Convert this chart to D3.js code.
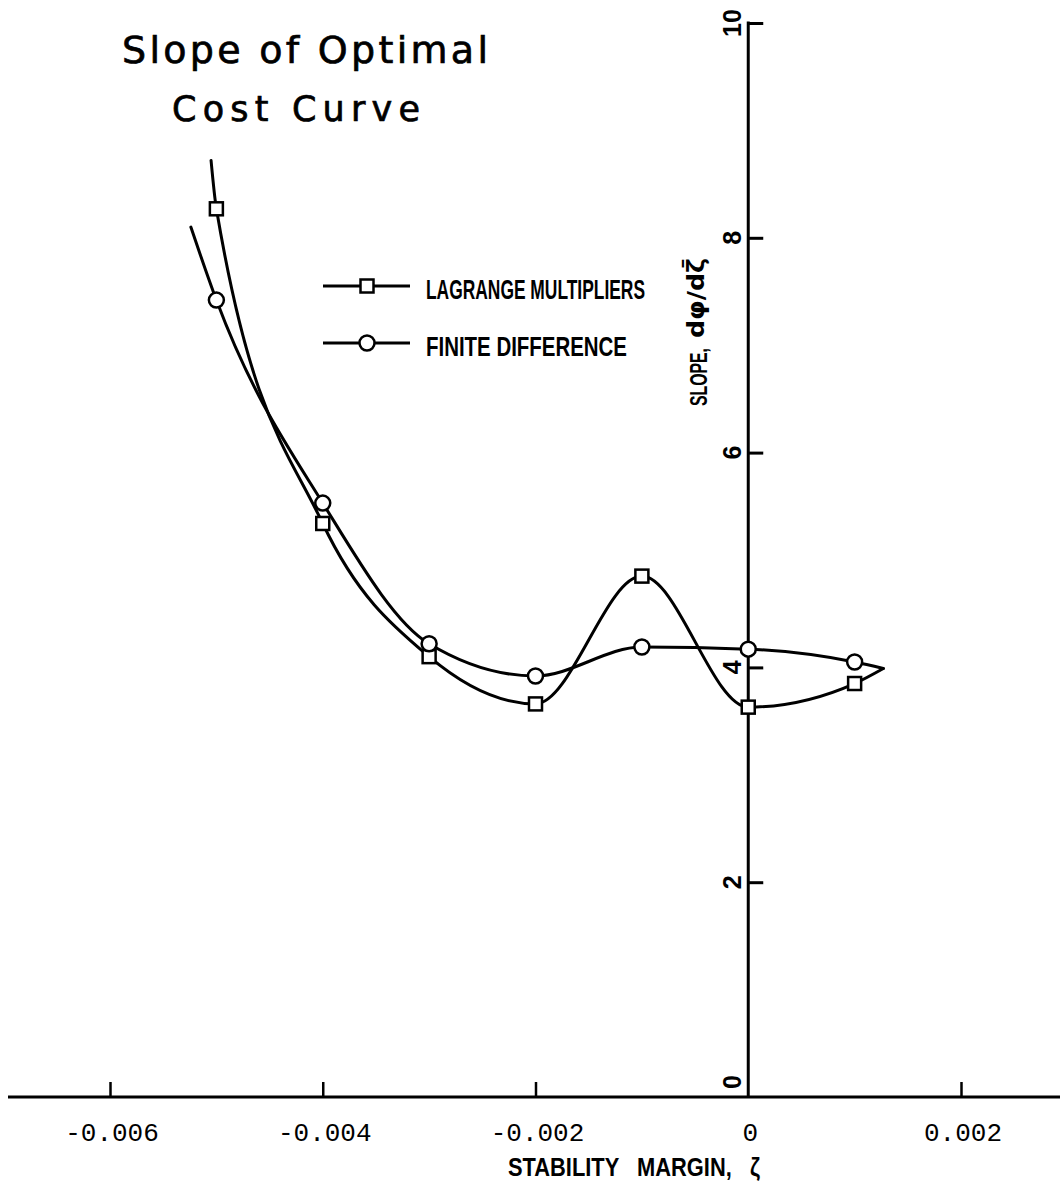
<!DOCTYPE html>
<html>
<head>
<meta charset="utf-8">
<script src="https://cdn.jsdelivr.net/npm/d3@7"></script>
<style>
  html, body { margin: 0; padding: 0; background: #fff; }
  svg { display: block; }
</style>
</head>
<body>
<svg id="chart" width="1060" height="1182"></svg>
<script>
// ---- data ----
const xTicks = [-0.006, -0.004, -0.002, 0, 0.002];
const xTickLabels = ["-0.006", "-0.004", "-0.002", "0", "0.002"];
const yTicks = [0, 2, 4, 6, 8, 10];
const yTickLabels = ["0", "2", "4", "6", "8", "10"];

// Lagrange multipliers (squares); first & last entries are curve ends without markers
const lagrangeX = [-0.00505, -0.005, -0.004, -0.003, -0.002, -0.001, 0, 0.001, 0.00127];
const lagrangeY = [8.72, 8.27, 5.34, 4.10, 3.66, 4.85, 3.63, 3.85, 3.99];
const lagrangeMarked = [false, true, true, true, true, true, true, true, false];

// Finite difference (circles)
const fdX = [-0.00524, -0.005, -0.004, -0.003, -0.002, -0.001, 0, 0.001, 0.00127];
const fdY = [8.10, 7.42, 5.53, 4.22, 3.92, 4.19, 4.17, 4.05, 3.99];
const fdMarked = [false, true, true, true, true, true, true, true, false];

const legendLabels = ["LAGRANGE MULTIPLIERS", "FINITE DIFFERENCE"];
const titleLines = ["Slope of Optimal", "Cost Curve"];

// ---- drawing ----
const svg = d3.select("#chart");
const x = d3.scaleLinear().domain([-0.006, 0.002]).range([110, 961]);
const y = d3.scaleLinear().domain([0, 10]).range([1097, 23]);
const ink = "#000";

// x axis
const xAxis = d3.axisBottom(x).tickValues(xTicks.filter(v => v !== 0))
  .tickSize(-15).tickFormat("");
const gx = svg.append("g").attr("transform", `translate(0,${y(0)})`).call(xAxis);
gx.select(".domain").remove();
gx.selectAll(".tick line").attr("stroke", ink).attr("stroke-width", 2.5);
svg.append("line").attr("x1", 8).attr("x2", 1060)
  .attr("y1", y(0)).attr("y2", y(0)).attr("stroke", ink).attr("stroke-width", 3);

svg.append("g").selectAll("text").data(xTicks).join("text")
  .attr("x", d => x(d) + 2).attr("y", y(0) + 44)
  .attr("text-anchor", "middle")
  .attr("font-family", "Liberation Mono, DejaVu Sans Mono, monospace")
  .attr("font-size", 26).attr("fill", ink)
  .text((d, i) => xTickLabels[i]);

// y axis
const yAxis = d3.axisRight(y).tickValues(yTicks.filter(v => v !== 0))
  .tickSize(15).tickFormat("");
const gy = svg.append("g").attr("transform", `translate(${x(0)},0)`).call(yAxis);
gy.select(".domain").remove();
gy.selectAll(".tick line").attr("stroke", ink).attr("stroke-width", 3);
svg.append("line").attr("x1", x(0)).attr("x2", x(0))
  .attr("y1", y(10) - 1.5).attr("y2", y(0)).attr("stroke", ink).attr("stroke-width", 3);

svg.append("g").selectAll("text").data(yTicks).join("text")
  .attr("transform", (d) => `translate(741,${y(d) - (d === 0 ? 15 : 0)}) rotate(-90)`)
  .attr("text-anchor", "middle")
  .attr("font-family", "Liberation Sans, Arial, sans-serif")
  .attr("font-weight", "bold")
  .attr("font-size", 25).attr("fill", ink)
  .text((d, i) => yTickLabels[i]);

// axis titles
const narrow = "Liberation Sans Narrow, Liberation Sans, Arial Narrow, sans-serif";
svg.append("text")
  .attr("transform", "translate(707,406) rotate(-90)")
  .attr("font-family", narrow).attr("font-weight", "bold")
  .attr("font-size", 23).attr("fill", ink)
  .attr("textLength", 58).attr("lengthAdjust", "spacingAndGlyphs")
  .text("SLOPE,");
svg.append("text")
  .attr("transform", "translate(704,338) rotate(-90)")
  .attr("font-family", "DejaVu Sans, sans-serif").attr("font-weight", "bold")
  .attr("font-size", 23).attr("fill", ink)
  .attr("textLength", 80).attr("lengthAdjust", "spacingAndGlyphs")
  .text("d\u03C6/d\u03B6\u0304");

svg.append("text").attr("x", 508).attr("y", 1176)
  .attr("font-family", narrow).attr("font-weight", "bold")
  .attr("font-size", 25).attr("fill", ink)
  .attr("textLength", 252).attr("lengthAdjust", "spacingAndGlyphs")
  .attr("xml:space", "preserve")
  .text("STABILITY   MARGIN,   \u03B6");

// title
svg.append("g").selectAll("text").data(titleLines).join("text")
  .attr("x", (d, i) => i === 0 ? 122 : 172)
  .attr("y", (d, i) => i === 0 ? 63 : 121)
  .attr("font-family", "DejaVu Sans, Liberation Sans, sans-serif")
  .attr("font-size", (d, i) => i === 0 ? 38 : 35).attr("fill", ink)
  .attr("stroke", ink).attr("stroke-width", 0.7)
  .attr("textLength", (d, i) => i === 0 ? 366 : 248)
  .attr("lengthAdjust", "spacing")
  .text(d => d);

// curves
const line = d3.line().x(d => x(d[0])).y(d => y(d[1])).curve(d3.curveMonotoneX);
const lagPts = lagrangeX.map((v, i) => [v, lagrangeY[i], lagrangeMarked[i]]);
const fdPts = fdX.map((v, i) => [v, fdY[i], fdMarked[i]]);

[lagPts, fdPts].forEach(pts => {
  svg.append("path").datum(pts).attr("d", line)
    .attr("fill", "none").attr("stroke", ink).attr("stroke-width", 3)
    .attr("stroke-linejoin", "round").attr("stroke-linecap", "round");
});

const sq = 13;
svg.append("g").selectAll("rect").data(lagPts.filter(d => d[2])).join("rect")
  .attr("x", d => x(d[0]) - sq / 2).attr("y", d => y(d[1]) - sq / 2)
  .attr("width", sq).attr("height", sq)
  .attr("fill", "#fff").attr("stroke", ink).attr("stroke-width", 2.5);
svg.append("g").selectAll("circle").data(fdPts.filter(d => d[2])).join("circle")
  .attr("cx", d => x(d[0])).attr("cy", d => y(d[1])).attr("r", 7.5)
  .attr("fill", "#fff").attr("stroke", ink).attr("stroke-width", 2.5);

// legend
const leg = svg.append("g");
const legY = [286, 343];
const legTextW = [219, 201];
legendLabels.forEach((lab, i) => {
  leg.append("line").attr("x1", 323).attr("x2", 410).attr("y1", legY[i]).attr("y2", legY[i])
    .attr("stroke", ink).attr("stroke-width", 3);
  if (i === 0) {
    leg.append("rect").attr("x", 367 - sq / 2).attr("y", legY[i] - sq / 2)
      .attr("width", sq).attr("height", sq)
      .attr("fill", "#fff").attr("stroke", ink).attr("stroke-width", 2.5);
  } else {
    leg.append("circle").attr("cx", 367).attr("cy", legY[i]).attr("r", 7.5)
      .attr("fill", "#fff").attr("stroke", ink).attr("stroke-width", 2.5);
  }
  leg.append("text").attr("x", 426).attr("y", legY[i] + 13)
    .attr("font-family", narrow).attr("font-weight", "bold")
    .attr("font-size", 28).attr("fill", ink)
    .attr("textLength", legTextW[i]).attr("lengthAdjust", "spacingAndGlyphs")
    .text(lab);
});
</script>
</body>
</html>
